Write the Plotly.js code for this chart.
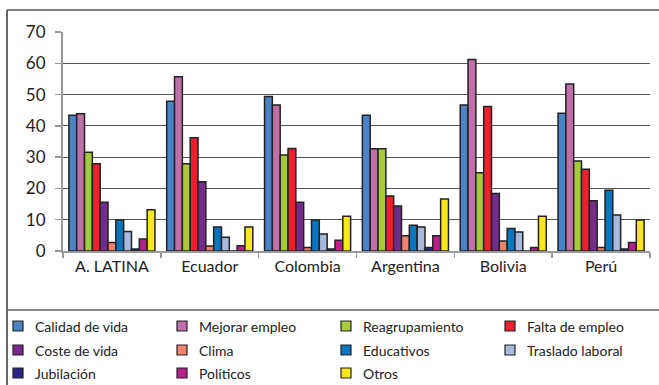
<!DOCTYPE html>
<html>
<head>
<meta charset="utf-8">
<script src="https://cdn.plot.ly/plotly-3.0.1.min.js"></script>
<style>html,body{margin:0;padding:0;background:#fff;}#chart{width:659px;height:385px;}</style>
</head>
<body>
<div id="chart"></div>
<script>
// Categories (x axis)
const categories = ['A. LATINA', 'Ecuador', 'Colombia', 'Argentina', 'Bolivia', 'Perú'];

// Series names (legend order)
const seriesNames = ['Calidad de vida', 'Mejorar empleo', 'Reagrupamiento', 'Falta de empleo',
  'Coste de vida', 'Clima', 'Educativos', 'Traslado laboral', 'Jubilación', 'Políticos', 'Otros'];

// Series values (%)
const calidadDeVida   = [43.4, 47.9, 49.4, 43.4, 46.7, 44.0];
const mejorarEmpleo   = [43.9, 55.7, 46.7, 32.7, 61.2, 53.4];
const reagrupamiento  = [31.6, 27.9, 30.7, 32.7, 25.0, 28.8];
const faltaDeEmpleo   = [27.9, 36.2, 32.8, 17.6, 46.2, 26.1];
const costeDeVida     = [15.6, 22.1, 15.6, 14.4, 18.4, 16.1];
const clima           = [2.7, 1.6, 1.1, 4.9, 3.2, 1.1];
const educativos      = [9.9, 7.7, 9.9, 8.2, 7.2, 19.4];
const trasladoLaboral = [6.2, 4.4, 5.4, 7.7, 6.1, 11.5];
const jubilacion      = [0.6, 0.0, 0.6, 1.1, 0.0, 0.6];
const politicos       = [3.8, 1.7, 3.4, 4.9, 1.1, 2.7];
const otros           = [13.2, 7.7, 11.1, 16.6, 11.1, 9.9];

// Y tick values
const yTicks = [0, 10, 20, 30, 40, 50, 60, 70];

const seriesValues = [calidadDeVida, mejorarEmpleo, reagrupamiento, faltaDeEmpleo, costeDeVida,
  clima, educativos, trasladoLaboral, jubilacion, politicos, otros];

const colors = ['#4a84c6', '#c070a8', '#a6cb3a', '#ee1f2e', '#752a8c', '#f2826f',
  '#0a76bf', '#a9b9de', '#27288a', '#b6208b', '#f8e71e'];

const traces = seriesNames.map((name, i) => ({
  type: 'bar',
  name: name,
  x: categories,
  y: seriesValues[i],
  marker: {color: colors[i], line: {color: '#222', width: 1.5}},
  hoverinfo: 'x+y+name'
}));

const W = 659, H = 385;
const M = {l: 63, r: 9, t: 32, b: 134};
const PW = W - M.l - M.r, PH = H - M.t - M.b;
const px = x => (x - M.l) / PW;
const py = y => (H - M.b - y) / PH;

const FONT = 'Lato, "Open Sans", sans-serif';

// Frame lines
const shapes = [
  {type: 'line', xref: 'paper', yref: 'paper', x0: px(7), x1: px(W + 5), y0: py(10), y1: py(10), line: {color: '#555', width: 1.5}},
  {type: 'line', xref: 'paper', yref: 'paper', x0: px(7), x1: px(7), y0: py(10), y1: py(H + 5), line: {color: '#333', width: 1.5}},
  {type: 'line', xref: 'paper', yref: 'paper', x0: px(7), x1: px(W + 5), y0: py(310), y1: py(310), line: {color: '#666', width: 1.5}}
];
const annotations = [];

// Legend laid out as a 4-column grid below the separator line
const legCols = [13, 177, 341, 505];
const legRows = [326, 350, 373];
seriesNames.forEach((name, i) => {
  const cx = legCols[i % 4], cy = legRows[Math.floor(i / 4)];
  shapes.push({type: 'rect', xref: 'paper', yref: 'paper',
    x0: px(cx), x1: px(cx + 10), y0: py(cy - 5), y1: py(cy + 5),
    fillcolor: colors[i], line: {color: '#222', width: 1.2}});
  annotations.push({xref: 'paper', yref: 'paper', x: px(cx + 20), y: py(cy + 0.5),
    xanchor: 'left', yanchor: 'middle', showarrow: false, text: name,
    font: {family: FONT, size: 14, color: '#222'}});
});

const layout = {
  width: W, height: H,
  margin: M,
  paper_bgcolor: '#fff', plot_bgcolor: '#fff',
  font: {family: FONT, color: '#222', size: 16},
  barmode: 'group',
  bargap: 0.12,
  bargroupgap: 0,
  showlegend: false,
  xaxis: {
    type: 'category',
    showgrid: false,
    showline: true, linecolor: '#999', linewidth: 2,
    ticks: 'outside', tickson: 'boundaries', ticklen: 5, tickcolor: '#999', tickwidth: 1.5,
    tickfont: {family: FONT, size: 16, color: '#222'},
    fixedrange: true
  },
  yaxis: {
    range: [0, 70],
    tickvals: yTicks,
    showgrid: true, gridcolor: '#555', gridwidth: 1.2,
    zeroline: false,
    showline: true, linecolor: '#999', linewidth: 2,
    ticks: 'outside', ticklen: 6, tickcolor: '#999', tickwidth: 1.5,
    ticklabelstandoff: 6,
    tickfont: {family: FONT, size: 17, color: '#222'},
    fixedrange: true
  },
  shapes: shapes,
  annotations: annotations
};

Plotly.newPlot('chart', traces, layout, {displayModeBar: false, staticPlot: true});
</script>
</body>
</html>
